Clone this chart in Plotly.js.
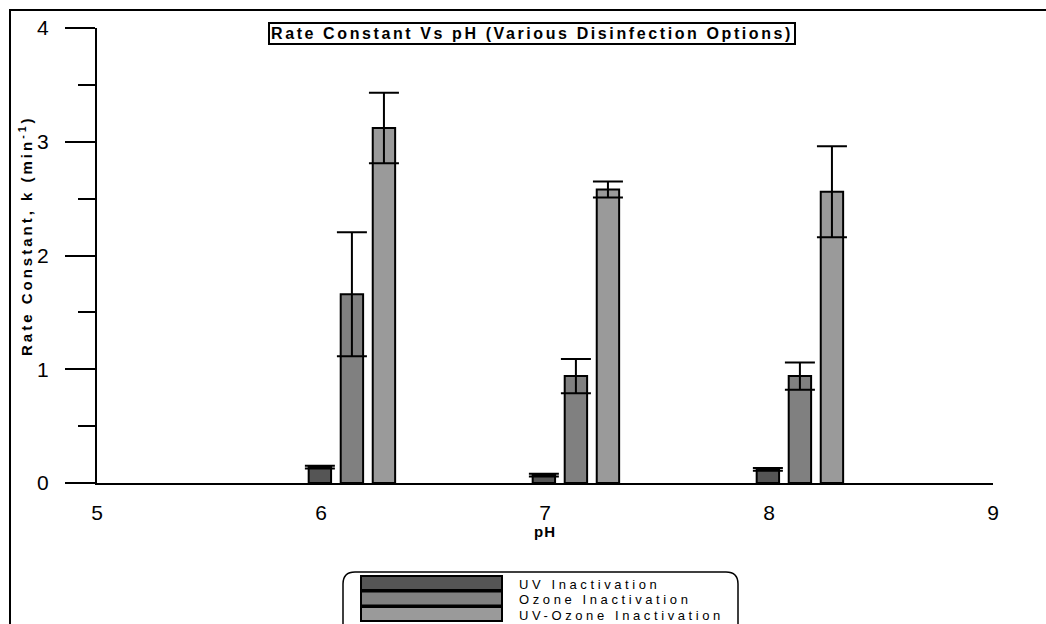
<!DOCTYPE html>
<html>
<head>
<meta charset="utf-8">
<script src="https://cdn.plot.ly/plotly-3.0.1.min.js"></script>
<style>
html,body{margin:0;padding:0;background:#fff;}
#chart{width:1046px;height:624px;}
.annotation-text{letter-spacing:3px;}
</style>
</head>
<body>
<div id="chart"></div>
<script>
// ---- data ----
const pH = [6, 7, 8];
const seriesNames = ["UV Inactivation", "Ozone Inactivation", "UV-Ozone Inactivation"];
const uvK = [0.14, 0.07, 0.12];
const uvErr = [0.012, 0.012, 0.012];
const ozoneK = [1.66, 0.94, 0.94];
const ozoneErr = [0.545, 0.15, 0.12];
const uvOzoneK = [3.12, 2.58, 2.56];
const uvOzoneErr = [0.31, 0.07, 0.40];
const xTickVals = [5, 6, 7, 8, 9];
const yTickVals = [0, 1, 2, 3, 4];
const chartTitle = "Rate Constant Vs pH (Various Disinfection Options)";
const xTitle = "pH";
const yTitle = "Rate Constant, k (min<sup>-1</sup>)";

const colors = ["#555555", "#808080", "#9a9a9a"];
const offsets = [-0.055, 0.088, 0.231];
const values = [uvK, ozoneK, uvOzoneK];
const errs = [uvErr, ozoneErr, uvOzoneErr];

const FONT = "Arial, 'Liberation Sans', sans-serif";
const spaced = (t, s) => `<span style="letter-spacing:${s}px">${t}</span>`;

const traces = values.map((v, i) => ({
  type: "bar",
  name: seriesNames[i],
  x: pH,
  y: v,
  width: 0.1,
  offset: offsets[i],
  marker: {color: colors[i], line: {color: "#000", width: 2}},
  error_y: {type: "data", array: errs[i], visible: true, color: "#000", thickness: 2, width: 15},
  showlegend: false,
  hoverinfo: "x+y"
}));

// plot area in pixels
const L = 97, R = 993, T = 28, B = 483;
const W = 1046, H = 624;
const px = x => (x - L) / (R - L);
const py = y => (B - y) / (B - T);

const shapes = [];
const annotations = [];

// outer frame (left/top visible)
shapes.push({type: "rect", xref: "paper", yref: "paper",
  x0: px(10), x1: px(1052), y0: py(10), y1: py(640),
  line: {color: "#000", width: 2}, fillcolor: "rgba(0,0,0,0)", layer: "below"});

// legend box with rounded corners
(function () {
  const x0 = px(343), x1 = px(738), y0 = py(572), y1 = py(640);
  const rx = 12 / (R - L), ry = 12 / (B - T);
  const path = `M ${x0 + rx},${y0} L ${x1 - rx},${y0} Q ${x1},${y0} ${x1},${y0 - ry} L ${x1},${y1} L ${x0},${y1} L ${x0},${y0 - ry} Q ${x0},${y0} ${x0 + rx},${y0} Z`;
  shapes.push({type: "path", xref: "paper", yref: "paper", path: path,
    line: {color: "#000", width: 1.5}, fillcolor: "#fff"});
})();

const rowTops = [576, 591.5, 607];
const rowH = 14;
seriesNames.forEach((name, i) => {
  shapes.push({type: "rect", xref: "paper", yref: "paper",
    x0: px(361), x1: px(502), y0: py(rowTops[i]), y1: py(rowTops[i] + rowH),
    fillcolor: colors[i], line: {color: "#000", width: 2}});
  annotations.push({xref: "paper", yref: "paper", x: px(517), y: py(rowTops[i] + rowH / 2 + 1),
    xanchor: "left", yanchor: "middle", showarrow: false, text: spaced(name, 3.6),
    font: {family: FONT, size: 13, color: "#000"}});
});

// boxed chart title
annotations.push({xref: "paper", yref: "paper", x: px(532), y: py(34), xanchor: "center", yanchor: "middle",
  showarrow: false, text: spaced("<b>" + chartTitle + "</b>", 2.6),
  font: {family: FONT, size: 16, color: "#000"},
  bordercolor: "#000", borderwidth: 2, borderpad: 1, bgcolor: "#fff"});

// x axis title
annotations.push({xref: "paper", yref: "paper", x: px(545), y: py(531), xanchor: "center", yanchor: "middle",
  showarrow: false, text: spaced("<b>" + xTitle + "</b>", 1),
  font: {family: FONT, size: 15, color: "#000"}});

// y axis title (rotated)
annotations.push({xref: "paper", yref: "paper", x: px(25), y: py(236), xanchor: "center", yanchor: "middle",
  showarrow: false, textangle: -90, text: "<b>" + yTitle + "</b>",
  font: {family: FONT, size: 15, color: "#000"}});

const layout = {
  width: W, height: H,
  margin: {l: L, r: W - R, t: T, b: H - B, pad: 0},
  paper_bgcolor: "#fff", plot_bgcolor: "#fff",
  barmode: "overlay",
  showlegend: false,
  font: {family: FONT, color: "#000"},
  xaxis: {
    range: [5, 9], tickvals: xTickVals, ticktext: xTickVals.map(String),
    showgrid: false, zeroline: false, showline: true, linecolor: "#000", linewidth: 2,
    ticks: "", tickfont: {family: FONT, size: 21, color: "#000"}, ticklabelstandoff: 10
  },
  yaxis: {
    range: [0, 4], tickvals: yTickVals, ticktext: yTickVals.map(String),
    showgrid: false, zeroline: false, showline: true, linecolor: "#000", linewidth: 2,
    ticks: "outside", ticklen: 30, tickwidth: 2, tickcolor: "#000",
    minor: {dtick: 0.5, ticks: "outside", ticklen: 17, tickwidth: 2, tickcolor: "#000", showgrid: false},
    tickfont: {family: FONT, size: 21, color: "#000"}, ticklabelstandoff: 12
  },
  shapes: shapes,
  annotations: annotations
};

Plotly.newPlot("chart", traces, layout, {displayModeBar: false, staticPlot: true});
</script>
</body>
</html>
